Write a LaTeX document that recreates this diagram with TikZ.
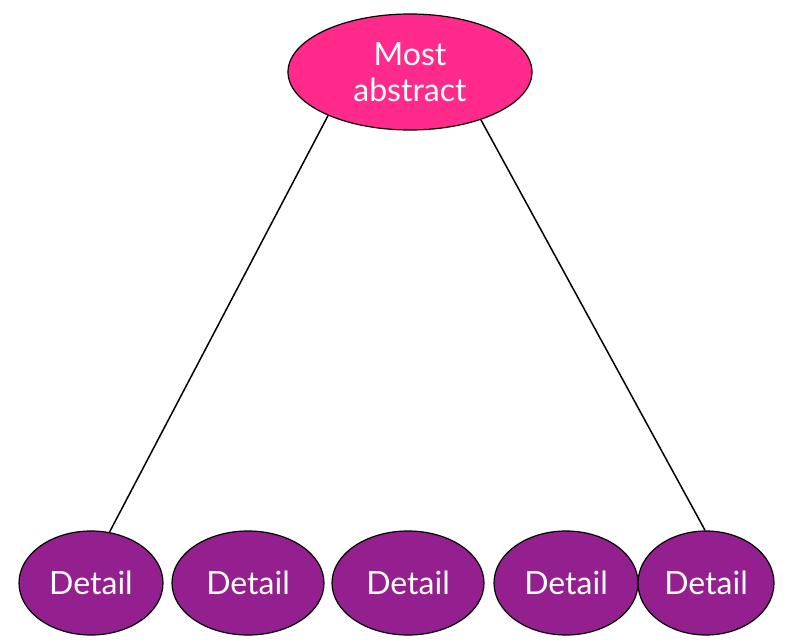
\documentclass[tikz,border=0pt]{standalone}
\usepackage{fontspec}
\setmainfont{Lato}
\usetikzlibrary{shapes.geometric}
\definecolor{topc}{HTML}{FF2A8C}
\definecolor{detc}{HTML}{93208E}
\tikzset{
 ell/.style={ellipse,draw=black,line width=1.2pt,inner sep=0pt,text=white,font=\fontsize{32}{40}\selectfont,align=center},
 det/.style={ell,fill=detc,minimum height=104pt},
 conn/.style={line width=1.5pt}
}
\begin{document}
\begin{tikzpicture}[x=1pt,y=-1pt]
\useasboundingbox (0,0) rectangle (797,644);
\node[ell,fill=topc,minimum width=244pt,minimum height=116pt] (top) at (410,72) {Most\\[-4pt]abstract};
\node[det,minimum width=144pt] (d1) at (91,583) {Detail};
\node[det,minimum width=152pt] (d2) at (248,583) {Detail};
\node[det,minimum width=152pt] (d3) at (408,583) {Detail};
\node[det,minimum width=144pt] (d4) at (566,583) {Detail};
\node[det,minimum width=136pt] (d5) at (706,583) {Detail};
\draw[conn] (top.208) -- (d1.70);
\draw[conn] (top.326) -- (d5.91);
\end{tikzpicture}
\end{document}
